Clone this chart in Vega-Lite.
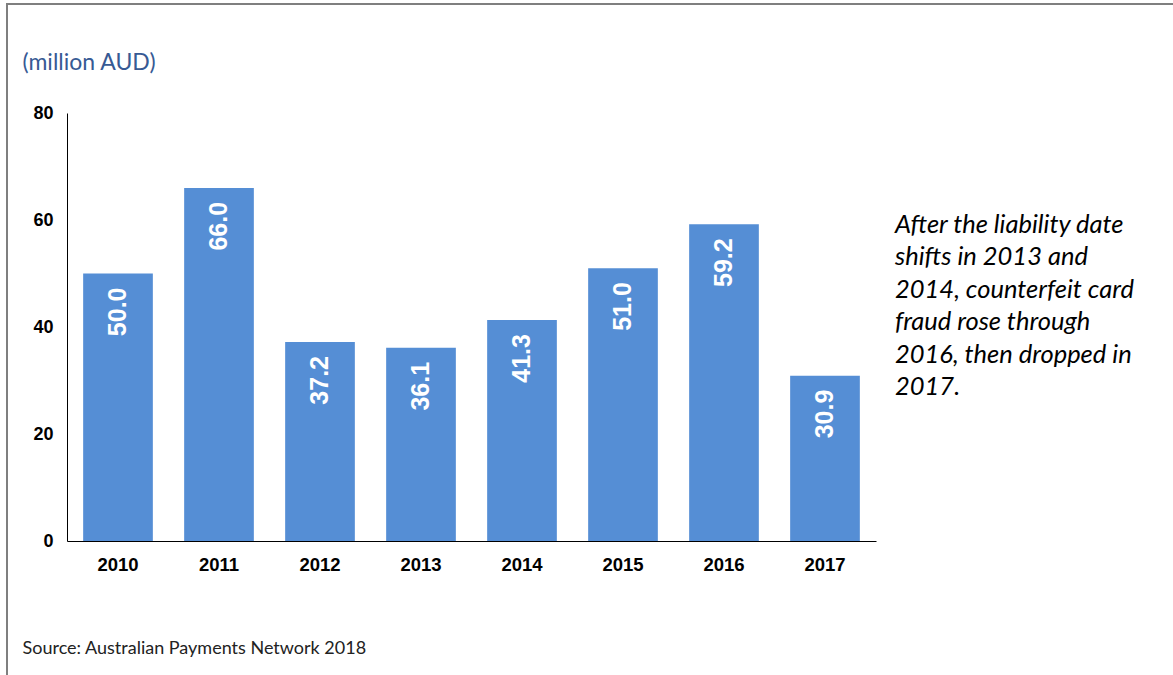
{
  "$schema": "https://vega.github.io/schema/vega-lite/v6.json",
  "width": 1166,
  "height": 671,
  "autosize": {"type": "none"},
  "padding": {"left": 7, "top": 4, "right": 0, "bottom": 0},
  "background": "white",
  "config": {
    "view": {"stroke": "#7f7f7f", "strokeWidth": 2, "strokeDash": [1166, 1837, 671], "fill": "white"}
  },
  "data": {
    "values": [
      {"year": "2010", "fraud": 50.0},
      {"year": "2011", "fraud": 66.0},
      {"year": "2012", "fraud": 37.2},
      {"year": "2013", "fraud": 36.1},
      {"year": "2014", "fraud": 41.3},
      {"year": "2015", "fraud": 51.0},
      {"year": "2016", "fraud": 59.2},
      {"year": "2017", "fraud": 30.9}
    ]
  },
  "encoding": {
    "x": {
      "field": "year",
      "type": "nominal",
      "sort": null,
      "scale": {"range": [60, 869], "paddingInner": 0.31, "paddingOuter": 0.16},
      "axis": {
        "title": "Source: Australian Payments Network 2018",
        "titleFont": "Lato",
        "titleFontWeight": "normal",
        "titleFontSize": 18,
        "titleColor": "#222222",
        "titleX": 15,
        "titleY": 107,
        "titleAlign": "left",
        "titleBaseline": "middle",
        "titleAnchor": "start",
        "offset": -134,
        "labelAngle": 0,
        "labelFont": "Liberation Sans",
        "labelFontWeight": "bold",
        "labelFontSize": 18.5,
        "labelColor": "#000000",
        "labelPadding": 14,
        "ticks": false,
        "domainColor": "#000000",
        "domainWidth": 1,
        "grid": false
      }
    }
  },
  "layer": [
    {
      "mark": {"type": "bar", "color": "#558ED5"},
      "encoding": {
        "y": {
          "field": "fraud",
          "type": "quantitative",
          "scale": {"domain": [0, 80], "range": [537, 109], "nice": false},
          "axis": {
            "title": "(million AUD)",
            "titleFont": "Lato",
            "titleFontWeight": "normal",
            "titleFontSize": 23,
            "titleColor": "#375A94",
            "titleAngle": 0,
            "titleX": -45,
            "titleY": 58,
            "titleAlign": "left",
            "titleBaseline": "middle",
            "offset": -60,
            "values": [0, 20, 40, 60, 80],
            "labelFont": "Liberation Sans",
            "labelFontWeight": "bold",
            "labelFontSize": 18,
            "labelColor": "#000000",
            "labelPadding": 14,
            "ticks": false,
            "grid": false,
            "domainColor": "#000000",
            "domainWidth": 1
          }
        }
      }
    },
    {
      "mark": {
        "type": "text",
        "angle": 270,
        "align": "right",
        "baseline": "middle",
        "dx": -14,
        "font": "Liberation Sans",
        "fontWeight": "bold",
        "fontSize": 25,
        "color": "white"
      },
      "encoding": {
        "y": {"field": "fraud", "type": "quantitative"},
        "text": {"field": "fraud", "type": "quantitative", "format": ".1f"}
      }
    },
    {
      "data": {
        "values": [
          {"note": ["After the liability date", "shifts in 2013 and", "2014, counterfeit card", "fraud rose through", "2016, then dropped in", "2017."]}
        ]
      },
      "mark": {
        "type": "text",
        "align": "left",
        "baseline": "alphabetic",
        "dx": 70,
        "font": "Lato",
        "fontStyle": "italic",
        "fontSize": 25.5,
        "lineHeight": 32.5,
        "color": "#000000"
      },
      "encoding": {
        "x": {"datum": "2017"},
        "y": {"datum": 57.6},
        "text": {"field": "note"}
      }
    }
  ]
}
